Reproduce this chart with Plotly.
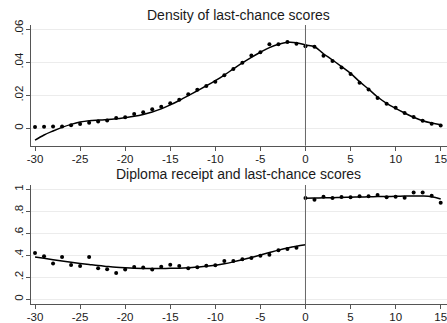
import plotly.graph_objects as go

# ---- Data: density of last-chance scores ----
dens_x = list(range(-30, 16))
dens_y = [0.0008, 0.0010, 0.0011, 0.0012, 0.0019, 0.0027, 0.0034, 0.0041, 0.0048, 0.0063,
          0.0068, 0.0087, 0.0098, 0.0115, 0.0131, 0.0152, 0.0173, 0.0206, 0.0234, 0.0257,
          0.0283, 0.0321, 0.0360, 0.0398, 0.0442, 0.0461, 0.0509, 0.0509, 0.0523, 0.0513,
          0.0497, 0.0495, 0.0440, 0.0408, 0.0368, 0.0329, 0.0277, 0.0236, 0.0184, 0.0149,
          0.0125, 0.0093, 0.0069, 0.0046, 0.0028, 0.0018]
dens_fit = [-0.0071, -0.0040, -0.0016, 0.0006, 0.0024, 0.0038, 0.0046, 0.0050, 0.0053, 0.0058,
            0.0065, 0.0073, 0.0084, 0.0099, 0.0118, 0.0142, 0.0169, 0.0198, 0.0228, 0.0258,
            0.0289, 0.0323, 0.0360, 0.0396, 0.0430, 0.0461, 0.0489, 0.0509, 0.0521, 0.0519,
            0.0505, 0.0494, 0.0452, 0.0414, 0.0374, 0.0333, 0.0283, 0.0238, 0.0190, 0.0152,
            0.0121, 0.0093, 0.0067, 0.0046, 0.0032, 0.0022]

# ---- Data: diploma receipt ----
left_x = list(range(-30, 0))
left_y = [0.420, 0.392, 0.325, 0.384, 0.311, 0.303, 0.384, 0.281, 0.272, 0.239,
          0.270, 0.294, 0.289, 0.270, 0.296, 0.314, 0.303, 0.283, 0.291, 0.305,
          0.309, 0.348, 0.348, 0.364, 0.376, 0.396, 0.405, 0.445, 0.458, 0.468]
left_fit_x = list(range(-30, 1))
left_fit = [0.385, 0.372, 0.360, 0.348, 0.337, 0.326, 0.316, 0.306, 0.298, 0.291,
            0.286, 0.282, 0.280, 0.279, 0.280, 0.281, 0.283, 0.287, 0.293, 0.300,
            0.310, 0.323, 0.340, 0.359, 0.380, 0.402, 0.425, 0.447, 0.466, 0.482, 0.495]
right_x = list(range(0, 16))
right_y = [0.921, 0.906, 0.932, 0.921, 0.930, 0.927, 0.936, 0.936, 0.947, 0.927,
           0.933, 0.924, 0.971, 0.970, 0.941, 0.877]
right_fit = [0.918, 0.920, 0.922, 0.924, 0.926, 0.928, 0.930, 0.932, 0.934, 0.935,
             0.936, 0.938, 0.939, 0.939, 0.933, 0.912]

top_ticks = [0, 0.02, 0.04, 0.06]
top_ticktext = ["0", ".02", ".04", ".06"]
bot_ticks = [0, 0.2, 0.4, 0.6, 0.8, 1]
bot_ticktext = ["0", ".2", ".4", ".6", ".8", "1"]
x_ticks = [-30, -25, -20, -15, -10, -5, 0, 5, 10, 15]

W, H = 447, 323
FONT = "Liberation Sans, Arial, sans-serif"
TXT = "#1a1a1a"
AX = "#555555"

def px_x(p):
    return p / W

def px_y(p):
    return 1 - p / H

fig = go.Figure()
mk = dict(color="black", size=4)
ln = dict(color="black", width=1.5)

fig.add_trace(go.Scatter(x=dens_x, y=dens_y, mode="markers", marker=mk, xaxis="x", yaxis="y"))
fig.add_trace(go.Scatter(x=dens_x, y=dens_fit, mode="lines", line=dict(shape="spline", **ln), xaxis="x", yaxis="y"))
fig.add_trace(go.Scatter(x=left_x, y=left_y, mode="markers", marker=mk, xaxis="x2", yaxis="y2"))
fig.add_trace(go.Scatter(x=left_fit_x, y=left_fit, mode="lines", line=dict(shape="spline", **ln), xaxis="x2", yaxis="y2"))
fig.add_trace(go.Scatter(x=right_x, y=right_y, mode="markers", marker=mk, xaxis="x2", yaxis="y2"))
fig.add_trace(go.Scatter(x=right_x, y=right_fit, mode="lines", line=dict(shape="spline", **ln), xaxis="x2", yaxis="y2"))

xdom = [px_x(30.7), 1.0]
top_dom = [px_y(145.7), px_y(25)]
bot_dom = [px_y(304), px_y(185)]

def xax(anchor):
    return dict(domain=xdom, range=[-30.48, 15.7], anchor=anchor, tickvals=x_ticks,
                ticktext=[str(v) for v in x_ticks], ticklabeloverflow="allow",
                showline=True, linecolor=AX, linewidth=1, ticks="outside", ticklen=4,
                tickcolor=AX, showgrid=False, zeroline=False, automargin=False,
                ticklabelstandoff=-2,
                tickfont=dict(size=11.5, color=TXT, family=FONT))

def yax(anchor, dom, rng, tv, tt):
    return dict(domain=dom, range=rng, anchor=anchor, tickvals=tv, ticktext=tt,
                tickangle=-90, showline=True, linecolor=AX, linewidth=1, ticks="outside",
                ticklen=4, tickcolor=AX, showgrid=True, gridcolor="#ececec", gridwidth=1,
                zeroline=False, automargin=False, ticklabelstandoff=-2,
                ticklabeloverflow="allow",
                tickfont=dict(size=11.5, color=TXT, family=FONT))

fig.update_layout(
    template="none",
    width=W, height=H,
    margin=dict(l=0, r=0, t=0, b=0),
    paper_bgcolor="white", plot_bgcolor="white",
    showlegend=False,
    xaxis=xax("y"),
    yaxis=yax("x", top_dom, [-0.0105, 0.0626], top_ticks, top_ticktext),
    xaxis2=xax("y2"),
    yaxis2=yax("x2", bot_dom, [-0.043, 1.039], bot_ticks, bot_ticktext),
    shapes=[
        dict(type="line", xref="x", yref="y domain", x0=0, x1=0, y0=0, y1=1,
             line=dict(color="#666666", width=1)),
        dict(type="line", xref="x2", yref="y2 domain", x0=0, x1=0, y0=0, y1=1,
             line=dict(color="#666666", width=1)),
    ],
    annotations=[
        dict(text="Density of last-chance scores", xref="paper", yref="paper",
             x=(xdom[0] + xdom[1]) / 2, y=px_y(15), showarrow=False,
             xanchor="center", yanchor="middle", font=dict(size=14, color=TXT, family=FONT)),
        dict(text="Diploma receipt and last-chance scores", xref="paper", yref="paper",
             x=(xdom[0] + xdom[1]) / 2, y=px_y(174), showarrow=False,
             xanchor="center", yanchor="middle", font=dict(size=14, color=TXT, family=FONT)),
    ],
)

fig.write_html(
    "out.html",
    config={"displayModeBar": False},
    post_script="document.body.style.margin='0';document.body.style.overflow='hidden';",
)
